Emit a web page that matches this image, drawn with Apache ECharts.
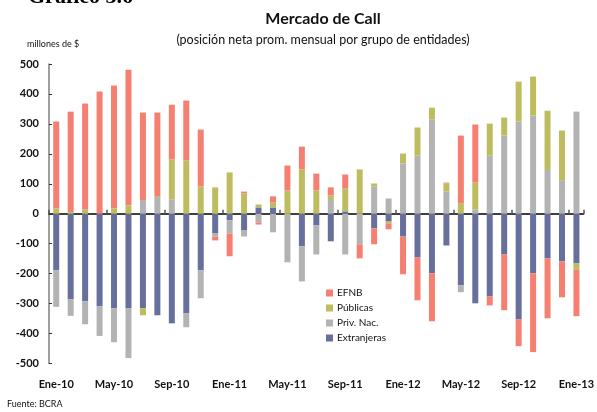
<!DOCTYPE html>
<html>
<head>
<meta charset="utf-8">
<script src="https://cdn.jsdelivr.net/npm/echarts@6/dist/echarts.min.js"></script>
<style>
  html, body { margin: 0; padding: 0; background: #fff; }
  #chart { width: 597px; height: 412px; }
</style>
</head>
<body>
<div id="chart"></div>
<script>
const months = [
  'Ene-10', 'Feb-10', 'Mar-10', 'Abr-10', 'May-10', 'Jun-10', 'Jul-10', 'Ago-10', 'Sep-10', 'Oct-10', 'Nov-10', 'Dic-10',
  'Ene-11', 'Feb-11', 'Mar-11', 'Abr-11', 'May-11', 'Jun-11', 'Jul-11', 'Ago-11', 'Sep-11', 'Oct-11', 'Nov-11', 'Dic-11',
  'Ene-12', 'Feb-12', 'Mar-12', 'Abr-12', 'May-12', 'Jun-12', 'Jul-12', 'Ago-12', 'Sep-12', 'Oct-12', 'Nov-12', 'Dic-12',
  'Ene-13'
]

// millones de $ (lectura aproximada del gráfico)
const efnb = [
  290, 335, 354, 408, 410, 453, 292, 279, 183, 200, 190, -13,
  -76, 6, -7, 20, 83, 76, 56, 27, 47, -47, -53, -20,
  -126, -143, -160, 3, 227, 194, -30, -186, -90, -263, -200, -120,
  -156
]
const publicas = [
  18, 6, 14, 0, 18, 28, -23, 3, 133, 178, 91, 88,
  138, 68, 10, 17, 78, 148, 78, 15, 76, 148, 10, -6,
  33, 94, 40, 27, 34, 90, 107, 60, 133, 130, 198, 166,
  -20
]
const privNac = [
  -122, -55, -77, -99, -113, -166, 46, 56, 48, -47, -93, -10,
  -44, -20, -29, -62, -162, -117, -97, 46, -136, -102, 91, 51,
  168, 194, 314, 74, -23, 14, 194, 261, 308, 328, 146, 112,
  341
]
const extranjeras = [
  -189, -286, -292, -309, -316, -316, -316, -339, -366, -332, -189, -66,
  -22, -56, 21, 21, 0, -109, -39, -92, 8, 0, -49, -26,
  -76, -146, -199, -106, -239, -299, -276, -136, -352, -199, -149, -159,
  -166
]
const yTicks = [-500, 500, 100]

const RED = '#F57F71'
const OLIVE = '#BDBD5F'
const GRAY = '#B3B3B3'
const BLUE = '#67709C'
const FONT = 'Lato, "Open Sans", sans-serif'

const chart = echarts.init(document.getElementById('chart'))

const barSeries = (name, data, color) => ({
  name,
  type: 'bar',
  stack: 'total',
  data,
  barWidth: 6,
  xAxisIndex: 0,
  itemStyle: { color },
  emphasis: { disabled: true }
})

chart.setOption({
  animation: false,
  backgroundColor: '#fff',
  title: [
    {
      text: 'Mercado de Call',
      left: 318,
      top: 6,
      textAlign: 'center',
      textStyle: { fontFamily: FONT, fontSize: 16, fontWeight: 'bold', color: '#111' }
    },
    {
      text: '(posición neta prom. mensual por grupo de entidades)',
      left: 318,
      top: 28,
      textAlign: 'center',
      textStyle: { fontFamily: FONT, fontSize: 12.5, fontWeight: 'normal', color: '#111' }
    }
  ],
  graphic: [
    {
      type: 'text',
      left: 28,
      top: -14,
      style: { text: 'Gráfico 3.6', font: 'bold 22px "Liberation Serif", serif', fill: '#000' }
    },
    {
      type: 'text',
      left: 27,
      top: 40,
      style: { text: 'millones de $', font: '9px ' + FONT, fill: '#111' }
    },
    {
      type: 'text',
      left: 7,
      top: 400,
      style: { text: 'Fuente: BCRA', font: '9px ' + FONT, fill: '#111' }
    }
  ],
  legend: {
    data: ['EFNB', 'Públicas', 'Priv. Nac.', 'Extranjeras'],
    orient: 'vertical',
    left: 321,
    top: 283,
    itemWidth: 7,
    itemHeight: 7,
    itemGap: 5,
    icon: 'rect',
    selectedMode: false,
    textStyle: { fontFamily: FONT, fontSize: 10, color: '#111', padding: [0, 0, 0, -1] }
  },
  grid: { left: 49, right: 12, top: 64, bottom: 48.5 },
  xAxis: [
    {
      type: 'category',
      data: months,
      position: 'bottom',
      axisLine: { show: false, onZero: false },
      axisTick: { show: false },
      axisLabel: {
        interval: 3,
        margin: 15,
        fontFamily: FONT,
        fontSize: 11,
        fontWeight: 'bold',
        color: '#111'
      }
    },
    {
      type: 'category',
      data: months,
      position: 'bottom',
      axisLine: { show: true, onZero: true, lineStyle: { color: '#000', width: 1.5 } },
      axisTick: { show: true, interval: 3, inside: true, length: 4, lineStyle: { color: '#555', width: 1.5 } },
      axisLabel: { show: false }
    }
  ],
  yAxis: {
    type: 'value',
    min: yTicks[0],
    max: yTicks[1],
    interval: yTicks[2],
    axisLine: { show: true, lineStyle: { color: '#7f7f7f', width: 1.5 } },
    axisTick: { show: true, inside: true, length: 3, lineStyle: { color: '#333' } },
    splitLine: { show: false },
    axisLabel: {
      margin: 10,
      fontFamily: FONT,
      fontSize: 11,
      fontWeight: 'bold',
      color: '#111'
    }
  },
  series: [
    barSeries('Extranjeras', extranjeras, BLUE),
    barSeries('Priv. Nac.', privNac, GRAY),
    barSeries('Públicas', publicas, OLIVE),
    barSeries('EFNB', efnb, RED)
  ]
})
</script>
</body>
</html>
